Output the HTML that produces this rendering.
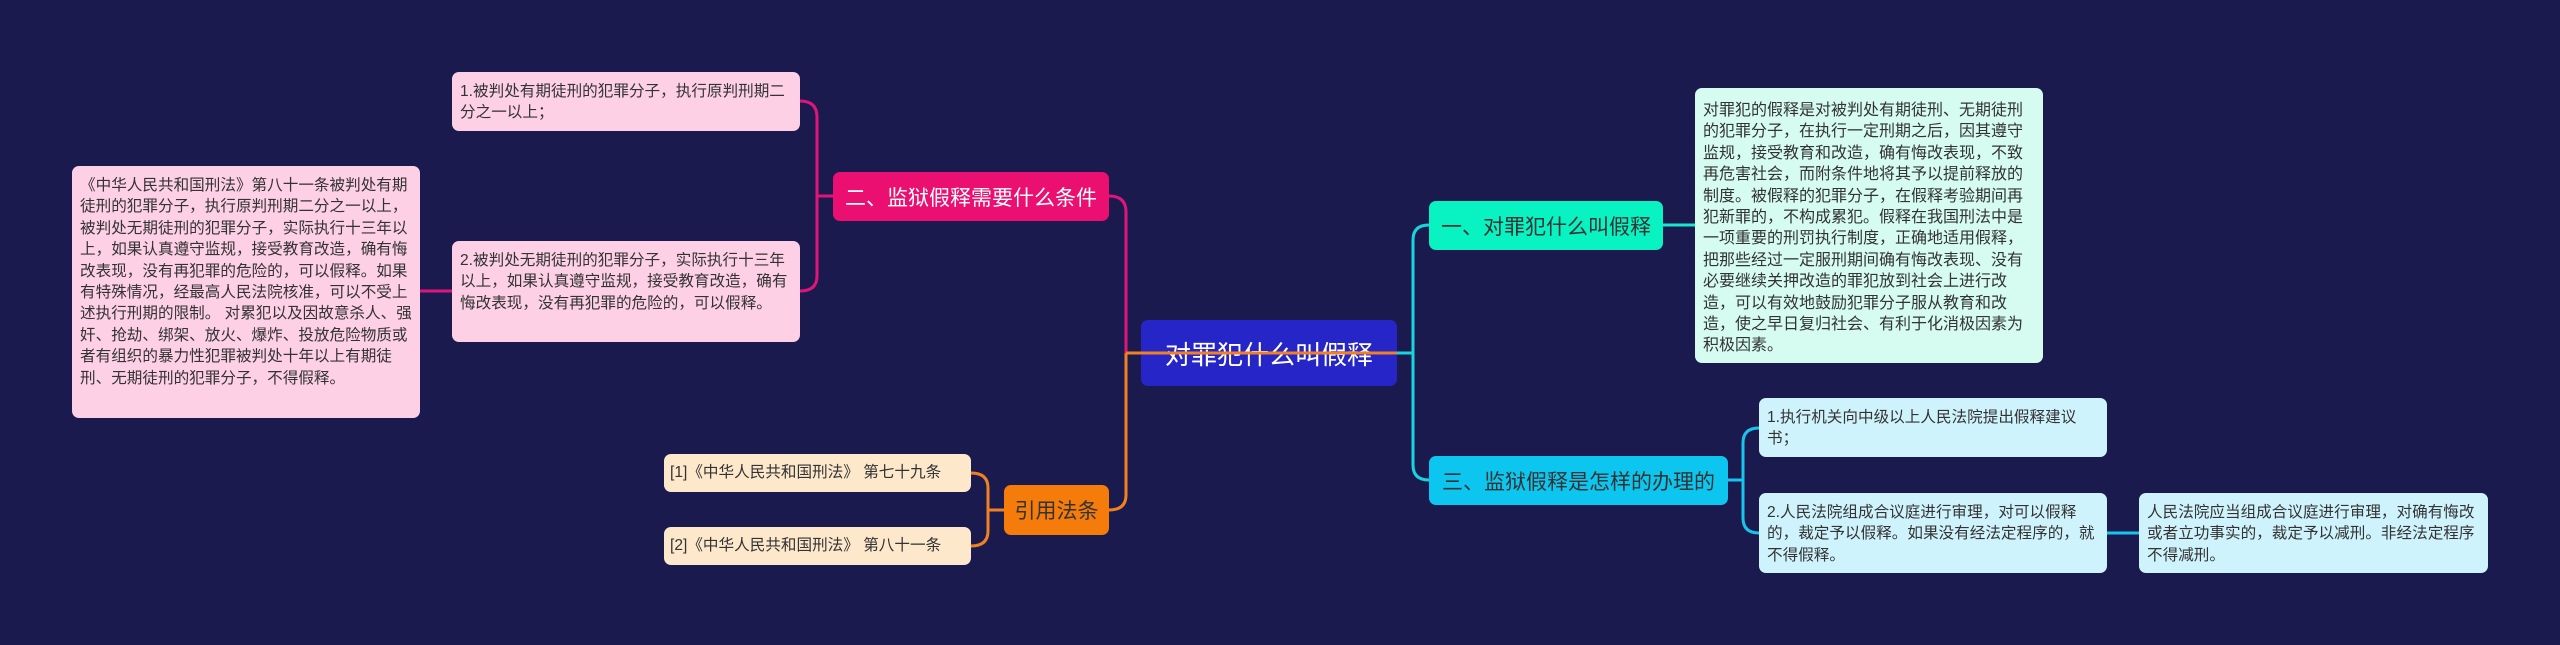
<!DOCTYPE html>
<html><head><meta charset="utf-8"><style>
html,body{margin:0;padding:0;}
body{width:2560px;height:645px;background:#1b1a4f;position:relative;overflow:hidden;font-family:"Liberation Sans","Noto Sans CJK SC",sans-serif;}
.b{position:absolute;box-sizing:border-box;border-radius:7px;font-size:15.6px;line-height:21.4px;color:#333;padding:9px 8px;}
.n{position:absolute;box-sizing:border-box;border-radius:7px;display:flex;align-items:center;justify-content:center;white-space:nowrap;}
.pk{background:#fdd0e5;}
.cr{background:#fde8cc;}
.mt{background:#d6fcf1;}
.cy{background:#cff3fc;}
svg{position:absolute;left:0;top:0;}
</style></head><body>
<svg width="2560" height="645" style="z-index:0">
<g fill="none" stroke-width="3">
<path d="M1109 196 Q1126 196 1126 212 L1126 353" stroke="#e0157a"/>
<path d="M1126 353 L1126 495 Q1126 510 1109 510" stroke="#f08020"/>
<path d="M833 196 L817 196 M800 101 Q817 101 817 117 L817 276 Q817 291 800 291" stroke="#e0157a"/>
<path d="M452 291 L420 291" stroke="#e0157a"/>
<path d="M1004 510 L988 510 M971 473 Q988 473 988 488 L988 531 Q988 546 971 546" stroke="#f08020"/>
<path d="M1397 353 L1413 353 M1429 225 Q1413 225 1413 240 L1413 465 Q1413 480 1429 480" stroke="#19d4dc"/>
<path d="M1663 225 L1695 225" stroke="#19e8c8"/>
<path d="M1728 480 L1743 480 M1759 428 Q1743 428 1743 443 L1743 518 Q1743 533 1759 533" stroke="#19c4ec"/>
<path d="M2107 533 L2139 533" stroke="#19c4ec"/>
</g></svg>
<div class="n" style="left:1141px;top:320px;width:256px;height:66px;background:#2626c8;color:#fff;font-size:26px;">对罪犯什么叫假释</div>
<svg width="2560" height="645" style="z-index:2;pointer-events:none"><path d="M1126 353 L1397 353" stroke="#f08020" stroke-width="3"/></svg>

<div class="n" style="left:833px;top:172px;width:276px;height:49px;background:#ea0f70;color:#fff;font-size:21px;">二、监狱假释需要什么条件</div>
<div class="b pk" style="left:452px;top:72px;width:348px;height:59px;">1.被判处有期徒刑的犯罪分子，执行原判刑期二分之一以上；</div>
<div class="b pk" style="left:452px;top:241px;width:348px;height:101px;">2.被判处无期徒刑的犯罪分子，实际执行十三年以上，如果认真遵守监规，接受教育改造，确有悔改表现，没有再犯罪的危险的，可以假释。</div>
<div class="b pk" style="left:72px;top:166px;width:348px;height:252px;">《中华人民共和国刑法》第八十一条被判处有期徒刑的犯罪分子，执行原判刑期二分之一以上，被判处无期徒刑的犯罪分子，实际执行十三年以上，如果认真遵守监规，接受教育改造，确有悔改表现，没有再犯罪的危险的，可以假释。如果有特殊情况，经最高人民法院核准，可以不受上述执行刑期的限制。 对累犯以及因故意杀人、强奸、抢劫、绑架、放火、爆炸、投放危险物质或者有组织的暴力性犯罪被判处十年以上有期徒刑、无期徒刑的犯罪分子，不得假释。</div>

<div class="n" style="left:1004px;top:485px;width:105px;height:50px;background:#f57c0a;color:#333;font-size:21px;">引用法条</div>
<div class="b cr" style="left:664px;top:454px;width:307px;height:38px;padding:8px 6px;">[1]《中华人民共和国刑法》 第七十九条</div>
<div class="b cr" style="left:664px;top:527px;width:307px;height:38px;padding:8px 6px;">[2]《中华人民共和国刑法》 第八十一条</div>

<div class="n" style="left:1429px;top:201px;width:234px;height:49px;background:#08f2c2;color:#333;font-size:21px;">一、对罪犯什么叫假释</div>
<div class="b mt" style="left:1695px;top:88px;width:348px;height:275px;padding:12px 8px;font-size:16px;">对罪犯的假释是对被判处有期徒刑、无期徒刑的犯罪分子，在执行一定刑期之后，因其遵守监规，接受教育和改造，确有悔改表现，不致再危害社会，而附条件地将其予以提前释放的制度。被假释的犯罪分子，在假释考验期间再犯新罪的，不构成累犯。假释在我国刑法中是一项重要的刑罚执行制度，正确地适用假释，把那些经过一定服刑期间确有悔改表现、没有必要继续关押改造的罪犯放到社会上进行改造，可以有效地鼓励犯罪分子服从教育和改造，使之早日复归社会、有利于化消极因素为积极因素。</div>

<div class="n" style="left:1429px;top:456px;width:299px;height:49px;background:#0cc6ef;color:#333;font-size:21px;">三、监狱假释是怎样的办理的</div>
<div class="b cy" style="left:1759px;top:398px;width:348px;height:59px;">1.执行机关向中级以上人民法院提出假释建议书；</div>
<div class="b cy" style="left:1759px;top:493px;width:348px;height:80px;">2.人民法院组成合议庭进行审理，对可以假释的，裁定予以假释。如果没有经法定程序的，就不得假释。</div>
<div class="b cy" style="left:2139px;top:493px;width:349px;height:80px;">人民法院应当组成合议庭进行审理，对确有悔改或者立功事实的，裁定予以减刑。非经法定程序不得减刑。</div>
</body></html>
